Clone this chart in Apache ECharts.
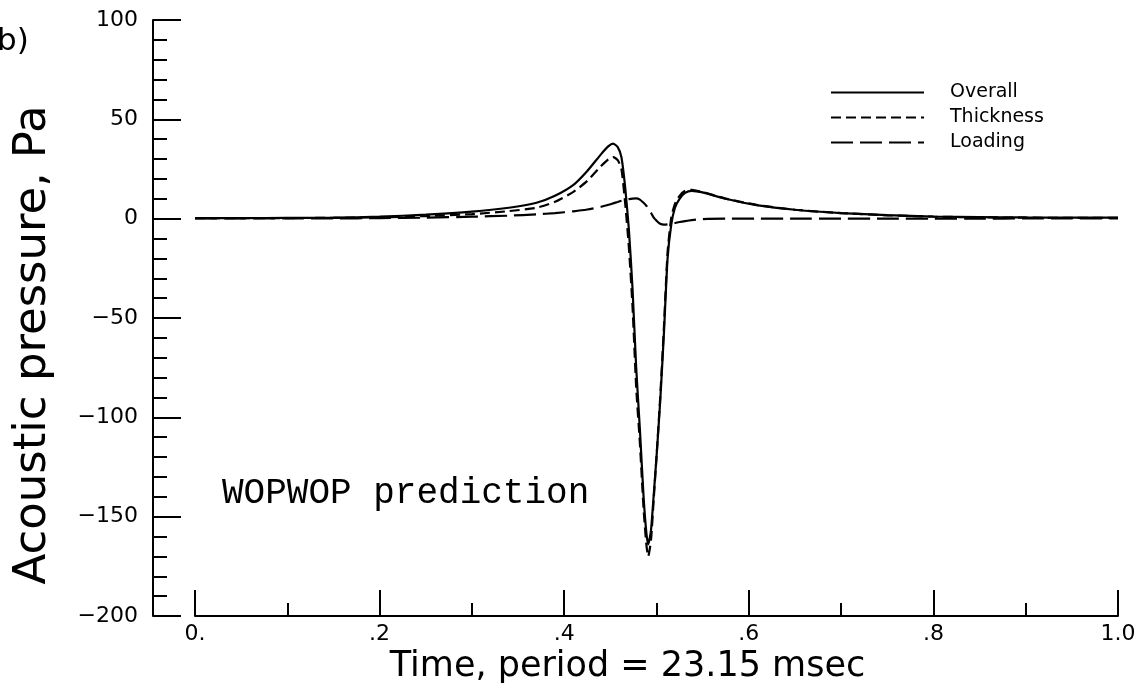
<!DOCTYPE html>
<html>
<head>
<meta charset="utf-8">
<script src="https://cdn.jsdelivr.net/npm/echarts@6/dist/echarts.min.js"></script>
<style>
  html, body { margin: 0; padding: 0; background: #fff; }
  #main { width: 1145px; height: 697px; }
</style>
</head>
<body>
<div id="main"></div>
<script>
// time as a fraction of the period
var time = [0, 0.05, 0.1, 0.15, 0.2, 0.25, 0.3, 0.34, 0.37, 0.39, 0.41, 0.425, 0.44, 0.448, 0.453,
  0.458, 0.462, 0.466, 0.47, 0.474, 0.478, 0.482, 0.486, 0.489, 0.491, 0.494, 0.497, 0.5, 0.504,
  0.508, 0.512, 0.516, 0.52, 0.525, 0.531, 0.538, 0.55, 0.575, 0.61, 0.65, 0.7, 0.75, 0.8, 0.85,
  0.9, 0.95, 1.0];

var overall = [0.3, 0.3, 0.4, 0.5, 1.0, 2.0, 3.5, 5.5, 8, 11.5, 17, 24, 32.5, 36.5, 37.8,
  36, 31, 16, -5, -35, -75, -106, -140, -158, -164, -157, -139, -120, -92,
  -58, -20, -3, 5.5, 10, 13, 14, 13.2, 10, 6.7, 4.5, 2.8, 1.8, 1.1, 0.8,
  0.6, 0.5, 0.5];

var thickness = [0.2, 0.2, 0.3, 0.4, 0.7, 1.3, 2.3, 3.8, 5.5, 8.5, 13.5, 19, 26.5, 30, 31,
  29.5, 25, 8, -14, -44, -85, -113, -146, -164, -170, -162, -141, -120, -90,
  -55, -17, 0.5, 7.5, 11.5, 14, 14.5, 13.4, 10.1, 6.8, 4.5, 2.8, 1.7, 1.0, 0.7,
  0.5, 0.4, 0.4];

var loading = [0.1, 0.1, 0.1, 0.1, 0.3, 0.5, 1.0, 1.5, 2.2, 2.8, 3.7, 4.6, 6, 7, 7.7,
  8.4, 9, 9.4, 9.8, 10.1, 10.2, 9.6, 8, 6.5, 5, 3, 0.5, -1, -2.6,
  -3, -2.9, -2.6, -2.2, -1.7, -1.2, -0.7, -0.2, 0, 0, 0, 0, 0, 0, 0,
  0.1, 0.1, 0.1];

var xTickLabels = ['0.', '.2', '.4', '.6', '.8', '1.0'];
var yTickLabels = ['\u2212200', '\u2212150', '\u2212100', '\u221250', '0', '50', '100'];

function pairs(vals) {
  return time.map(function (t, i) { return [t, vals[i]]; });
}

var myChart = echarts.init(document.getElementById('main'));

var lineFont = 'DejaVu Sans';

option = {
  backgroundColor: '#fff',
  animation: false,
  grid: { left: 195, right: 27, top: 20, bottom: 81 },
  legend: {
    orient: 'vertical',
    left: 825,
    top: 78,
    itemWidth: 93,
    itemHeight: 14,
    itemGap: 6,
    itemStyle: { opacity: 0 },
    textStyle: { fontFamily: lineFont, fontSize: 19, color: '#000', padding: [0, 0, 0, 21] },
    data: ['Overall', 'Thickness', 'Loading']
  },
  xAxis: {
    type: 'value',
    min: 0,
    max: 1,
    interval: 0.2,
    name: 'Time, period = 23.15 msec',
    nameLocation: 'middle',
    nameGap: 30,
    nameTextStyle: { fontFamily: lineFont, fontSize: 35, color: '#000', padding: [0, 58, 0, 0] },
    axisLine: { onZero: false, lineStyle: { color: '#000', width: 2 } },
    axisTick: { inside: true, length: 26, lineStyle: { color: '#000', width: 2 } },
    minorTick: { show: true, splitNumber: 2, length: 13, lineStyle: { color: '#000', width: 2 } },
    splitLine: { show: false },
    axisLabel: {
      margin: 7,
      fontFamily: lineFont,
      fontSize: 22,
      color: '#000',
      formatter: function (v) { return xTickLabels[Math.round(v / 0.2)]; }
    }
  },
  yAxis: {
    type: 'value',
    min: -200,
    max: 100,
    interval: 50,
    offset: 42,
    name: 'Acoustic pressure, Pa',
    nameLocation: 'middle',
    nameGap: 97,
    nameTextStyle: { fontFamily: lineFont, fontSize: 45, color: '#000', padding: [0, 54, 0, 0] },
    axisLine: { show: true, onZero: false, lineStyle: { color: '#000', width: 2 } },
    axisTick: { show: true, inside: true, length: 28, lineStyle: { color: '#000', width: 2 } },
    minorTick: { show: true, splitNumber: 5, length: 14, lineStyle: { color: '#000', width: 2 } },
    splitLine: { show: false },
    axisLabel: {
      margin: 15,
      fontFamily: lineFont,
      fontSize: 22,
      color: '#000',
      formatter: function (v) { return yTickLabels[Math.round((v + 200) / 50)]; }
    }
  },
  graphic: [
    {
      type: 'text', left: -3, top: 26,
      style: { text: 'b)', font: '31px "DejaVu Sans"', fill: '#000' }
    },
    {
      type: 'text', x: 222, y: 493,
      style: { text: 'WOPWOP prediction', font: '36px "Liberation Mono"', fill: '#000', textVerticalAlign: 'middle' }
    }
  ],
  series: [
    {
      name: 'Overall', type: 'line', data: pairs(overall), symbol: 'none', smooth: 0.2,
      lineStyle: { color: '#000', width: 2.2, type: 'solid' },
      itemStyle: { color: '#000' }
    },
    {
      name: 'Thickness', type: 'line', data: pairs(thickness), symbol: 'none', smooth: 0.2,
      lineStyle: { color: '#000', width: 2.2, type: [10, 5] },
      itemStyle: { color: '#000' }
    },
    {
      name: 'Loading', type: 'line', data: pairs(loading), symbol: 'none', smooth: 0.2,
      lineStyle: { color: '#000', width: 2.2, type: [22, 7] },
      itemStyle: { color: '#000' }
    }
  ]
};

myChart.setOption(option);
</script>
</body>
</html>
